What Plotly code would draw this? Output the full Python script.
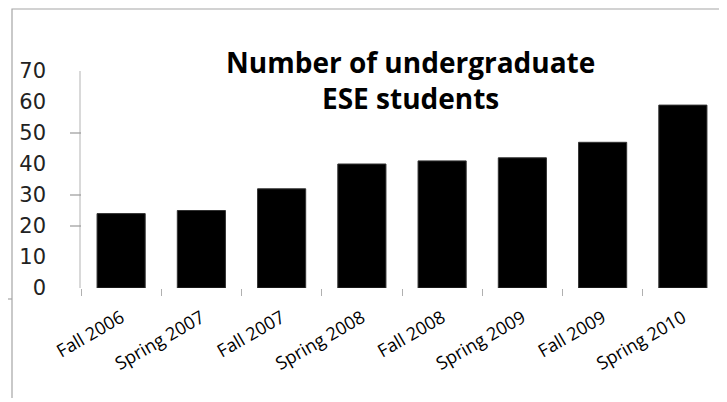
import plotly.graph_objects as go

semesters = ["Fall 2006", "Spring 2007", "Fall 2007", "Spring 2008",
             "Fall 2008", "Spring 2009", "Fall 2009", "Spring 2010"]
students = [24, 25, 32, 40, 41, 42, 47, 59]
y_ticks = [0, 10, 20, 30, 40, 50, 60, 70]
visible_y_tick_marks = [20, 30, 50]
title_lines = ["Number of undergraduate", "ESE students"]

# page body has an 8px margin, so the figure is drawn at (8, 8)
OFF = 8
W, H = 727 - OFF, 402 - OFF
L, R, T, B = 81 - OFF, 4, 71 - OFF, 402 - 288
pw, ph = W - L - R, H - T - B

def px(x):  # screen x -> paper
    return (x - OFF - L) / pw

def py(y):  # screen y -> paper
    return (H - B - (y - OFF)) / ph

fig = go.Figure(go.Bar(
    x=semesters, y=students,
    marker=dict(color="#000000", line=dict(color="#333333", width=1)),
    width=0.6,
))

shapes = [
    dict(type="path", xref="paper", yref="paper",
         path=f"M {px(12)},{py(398)} L {px(12)},{py(9)} L {px(723)},{py(9)} L {px(723)},{py(398)}",
         line=dict(color="#a6a6a6", width=1.2)),
    dict(type="line", xref="paper", yref="paper",
         x0=px(0), x1=px(12), y0=py(299), y1=py(299),
         line=dict(color="#a6a6a6", width=1.2)),
]
for v in visible_y_tick_marks:
    shapes.append(dict(type="line", xref="paper", yref="y",
                       x0=px(70), x1=0, y0=v, y1=v,
                       line=dict(color="#9a9a9a", width=1.2)))

annotations = [
    dict(text="<b>" + "<br>".join(title_lines) + "</b>",
         xref="paper", yref="paper",
         x=px(411), y=py(80), xanchor="center", yanchor="middle",
         showarrow=False, align="center",
         font=dict(family="Open Sans", size=28, color="#000000"))
]

fig.update_layout(
    width=W, height=H,
    margin=dict(l=L, r=R, t=T, b=B),
    paper_bgcolor="white", plot_bgcolor="white",
    showlegend=False,
    bargap=0.4,
    xaxis=dict(showline=False, showgrid=False, zeroline=False,
               ticks="outside", tickson="boundaries", ticklen=7,
               tickcolor="#b0b0b0", tickwidth=1.2,
               tickangle=-30, ticklabelstandoff=15,
               tickfont=dict(family="Open Sans", size=18, color="#000000")),
    yaxis=dict(range=[0, 70], tickvals=y_ticks, showgrid=False, zeroline=False,
               showline=True, linecolor="#d9d9d9", linewidth=1.5,
               ticks="", ticklabelstandoff=29,
               tickfont=dict(family="DejaVu Sans", size=21, color="#222222")),
    shapes=shapes,
    annotations=annotations,
)

fig.write_html("out.html")
